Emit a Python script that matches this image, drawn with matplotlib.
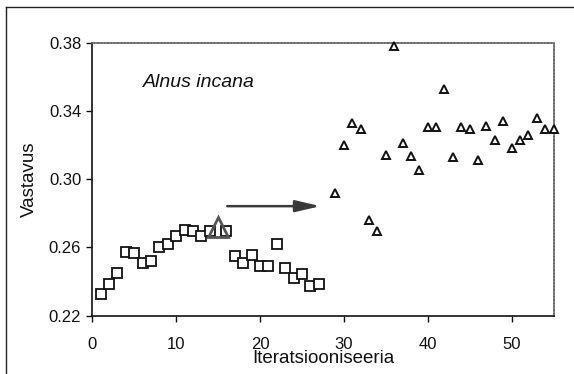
import matplotlib
matplotlib.use("Agg")
import matplotlib.pyplot as plt
from matplotlib.lines import Line2D

plt.rcParams['font.family'] = ['Liberation Sans', 'DejaVu Sans']

# First stage of the iteration series (squares)
sq_x = [1, 2, 3, 4, 5, 6, 7, 8, 9, 10, 11, 12, 13, 14, 16,
        17, 18, 19, 20, 21, 22, 23, 24, 25, 26, 27]
sq_y = [0.2325, 0.2388, 0.2453, 0.2576, 0.2570, 0.2511, 0.2519, 0.2600,
        0.2619, 0.2668, 0.2701, 0.2697, 0.2668, 0.2694, 0.2697,
        0.2551, 0.2511, 0.2556, 0.2492, 0.2492, 0.2621, 0.2482, 0.2419,
        0.2447, 0.2374, 0.2384]

# Second stage of the iteration series (triangles)
tri_x = list(range(29, 56))
tri_y = [0.2917, 0.3203, 0.3332, 0.3295, 0.2762, 0.2694, 0.3144, 0.3780,
         0.3211, 0.3138, 0.3056, 0.3308, 0.3304, 0.3530, 0.3132, 0.3304,
         0.3295, 0.3113, 0.3314, 0.3230, 0.3344, 0.3183, 0.3230, 0.3260,
         0.3359, 0.3295, 0.3295]

# Highlighted series point
mark_x = [15]
mark_y = [0.2719]

# Arrow between the two stages
arrow_x = [16.1, 27.2]
arrow_y = 0.2842

x_ticks = [0, 10, 20, 30, 40, 50]
y_ticks = [0.22, 0.26, 0.30, 0.34, 0.38]

fig = plt.figure(figsize=(5.74, 3.74), dpi=100)
ax = fig.add_axes([0.1608, 0.1559, 0.8035, 0.7299])

ax.plot(sq_x, sq_y, linestyle='none', marker='s', markersize=7.6,
        markerfacecolor='white', markeredgecolor='#111111', markeredgewidth=1.3)
ax.plot(tri_x, tri_y, linestyle='none', marker='^', markersize=5.8,
        markerfacecolor='white', markeredgecolor='#111111', markeredgewidth=1.4,
        clip_on=False, zorder=4)
ax.plot(mark_x, mark_y, linestyle='none', marker='^', markersize=14,
        markerfacecolor='none', markeredgecolor='#555555', markeredgewidth=2.0,
        zorder=5)

ax.annotate('', xy=(arrow_x[1], arrow_y), xytext=(arrow_x[0], arrow_y),
            arrowprops=dict(arrowstyle='-|>,head_length=1.5,head_width=0.35',
                            color='#3a3a3a', lw=1.8, shrinkA=0, shrinkB=0))

ax.text(6.0, 0.3564, 'Alnus incana', fontsize=14, fontstyle='italic',
        ha='left', va='center', color='#111111')

ax.set_xlim(0, 55)
ax.set_ylim(0.22, 0.38)
ax.set_xticks(x_ticks)
ax.set_yticks(y_ticks)
ax.set_yticklabels([f'{v:.2f}' for v in y_ticks])
ax.tick_params(direction='out', length=4, width=1.0, labelsize=12,
               colors='#111111')
ax.tick_params(axis='x', pad=11)
ax.tick_params(axis='y', pad=4)

ax.set_xlabel('Iteratsiooniseeria', fontsize=13.5, labelpad=-1, color='#111111')
ax.set_ylabel('Vastavus', fontsize=13.5, labelpad=8, color='#111111')

for side in ('left', 'bottom'):
    ax.spines[side].set_linewidth(1.2)
    ax.spines[side].set_color('#111111')
for side in ('top', 'right'):
    ax.spines[side].set_linewidth(1.2)
    ax.spines[side].set_color('#666666')
    ax.spines[side].set_linestyle((0, (1.2, 0.8)))

# Outer frame along the top and left of the figure
W, H = 574.0, 374.0
fig.add_artist(Line2D([6 / W, 6 / W], [0, 1 - 7 / H], transform=fig.transFigure,
                      color='#222222', lw=1.0))
fig.add_artist(Line2D([6 / W, 1], [1 - 7 / H, 1 - 7 / H], transform=fig.transFigure,
                      color='#222222', lw=1.0))

fig.savefig('out.png', dpi=100)
